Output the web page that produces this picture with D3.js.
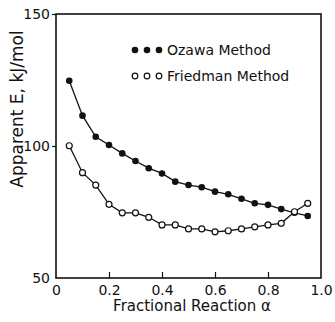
<!DOCTYPE html>
<html>
<head>
<meta charset="utf-8">
<script src="https://cdn.jsdelivr.net/npm/d3@7"></script>
<style>
  body { margin: 0; background: #fff; }
  svg text { font-family: "DejaVu Sans", sans-serif; fill: #111; }
</style>
</head>
<body>
<script>
const width = 335;
const height = 322;
const margin = {top: 14, right: 14, bottom: 44, left: 56};

// fractional reaction values
const alphaValues = [0.05, 0.1, 0.15, 0.2, 0.25, 0.3, 0.35, 0.4, 0.45, 0.5,
                     0.55, 0.6, 0.65, 0.7, 0.75, 0.8, 0.85, 0.9, 0.95];
// apparent activation energy, kJ/mol
const ozawaValues = [124.7, 111.5, 103.5, 100.4, 97.2, 94.3, 91.6, 89.6, 86.5, 85.2,
                     84.4, 82.7, 81.7, 80.0, 78.3, 77.7, 76.1, 74.7, 73.5];
const friedmanValues = [100.1, 89.9, 85.2, 77.9, 74.7, 74.7, 73.0, 70.1, 70.1, 68.6,
                        68.6, 67.5, 67.9, 68.6, 69.4, 70.1, 70.7, 75.1, 78.3];

const xTicks = [0, 0.2, 0.4, 0.6, 0.8, 1.0];
const xTickLabels = ['0', '0.2', '0.4', '0.6', '0.8', '1.0'];
const yTicks = [50, 100, 150];

const svg = d3.select('body')
              .append('svg')
              .attr('width', width)
              .attr('height', height);

const xScale = d3.scaleLinear()
                 .domain([0, 1])
                 .range([margin.left, width - margin.right]);

const yScale = d3.scaleLinear()
                 .domain([50, 150])
                 .range([height - margin.bottom, margin.top]);

// frame
svg.append('rect')
   .attr('x', xScale(0))
   .attr('y', yScale(150))
   .attr('width', xScale(1) - xScale(0))
   .attr('height', yScale(50) - yScale(150))
   .attr('fill', 'none')
   .attr('stroke', '#111')
   .attr('stroke-width', 1.6);

const xAxis = d3.axisBottom(xScale)
                .tickValues(xTicks)
                .tickFormat((d, i) => xTickLabels[i])
                .tickSizeInner(-6)
                .tickSizeOuter(0)
                .tickPadding(10);

svg.append('g')
   .attr('transform', 'translate(0,' + yScale(50) + ')')
   .call(xAxis)
   .call(g => g.select('.domain').remove())
   .call(g => g.selectAll('.tick line').attr('stroke', '#111').attr('stroke-width', 1.2))
   .call(g => g.selectAll('.tick').filter(d => d === 0 || d === 1).select('line').remove())
   .call(g => g.selectAll('.tick text').style('font-size', '14px').attr('dy', '0.5em'));

const yAxis = d3.axisLeft(yScale)
                .tickValues(yTicks)
                .tickSizeInner(4)
                .tickSizeOuter(0)
                .tickPadding(2);

svg.append('g')
   .attr('transform', 'translate(' + xScale(0) + ',0)')
   .call(yAxis)
   .call(g => g.select('.domain').remove())
   .call(g => g.selectAll('.tick line').attr('stroke', '#111').attr('stroke-width', 1.2))
   .call(g => g.selectAll('.tick').filter(d => d === 50).select('line').remove())
   .call(g => g.selectAll('.tick text').style('font-size', '14px'));

const line = d3.line()
               .x(d => xScale(d[0]))
               .y(d => yScale(d[1]));

const ozawa = alphaValues.map((a, i) => [a, ozawaValues[i]]);
const friedman = alphaValues.map((a, i) => [a, friedmanValues[i]]);

svg.append('path')
   .datum(friedman)
   .attr('d', line)
   .attr('fill', 'none')
   .attr('stroke', '#111')
   .attr('stroke-width', 1.3);

svg.append('path')
   .datum(ozawa)
   .attr('d', line)
   .attr('fill', 'none')
   .attr('stroke', '#111')
   .attr('stroke-width', 1.3);

svg.selectAll('circle.ozawa')
   .data(ozawa)
   .enter()
   .append('circle')
   .attr('class', 'ozawa')
   .attr('cx', d => xScale(d[0]))
   .attr('cy', d => yScale(d[1]))
   .attr('r', 3.3)
   .attr('fill', '#111');

svg.selectAll('circle.friedman')
   .data(friedman)
   .enter()
   .append('circle')
   .attr('class', 'friedman')
   .attr('cx', d => xScale(d[0]))
   .attr('cy', d => yScale(d[1]))
   .attr('r', 3)
   .attr('fill', '#fff')
   .attr('stroke', '#111')
   .attr('stroke-width', 1.2);

// legend
const legendX = [135, 147, 159];
const legend = svg.append('g');
legend.selectAll('circle.lo')
      .data(legendX)
      .enter()
      .append('circle')
      .attr('cx', d => d)
      .attr('cy', 50)
      .attr('r', 3.3)
      .attr('fill', '#111');
legend.selectAll('circle.lf')
      .data(legendX)
      .enter()
      .append('circle')
      .attr('cx', d => d)
      .attr('cy', 76)
      .attr('r', 2.8)
      .attr('fill', '#fff')
      .attr('stroke', '#111')
      .attr('stroke-width', 1.2);
legend.append('text')
      .attr('x', 167).attr('y', 50).attr('dy', '0.36em')
      .style('font-size', '14px')
      .text('Ozawa Method');
legend.append('text')
      .attr('x', 167).attr('y', 76).attr('dy', '0.36em')
      .style('font-size', '14px')
      .text('Friedman Method');

// axis titles
svg.append('text')
   .attr('x', 192).attr('y', 311)
   .attr('text-anchor', 'middle')
   .style('font-size', '15px')
   .text('Fractional Reaction α');

svg.append('text')
   .attr('transform', 'translate(17,109) rotate(-90)')
   .attr('text-anchor', 'middle')
   .attr('dy', '0.36em')
   .style('font-size', '17px')
   .text('Apparent E, kJ/mol');
</script>
</body>
</html>
